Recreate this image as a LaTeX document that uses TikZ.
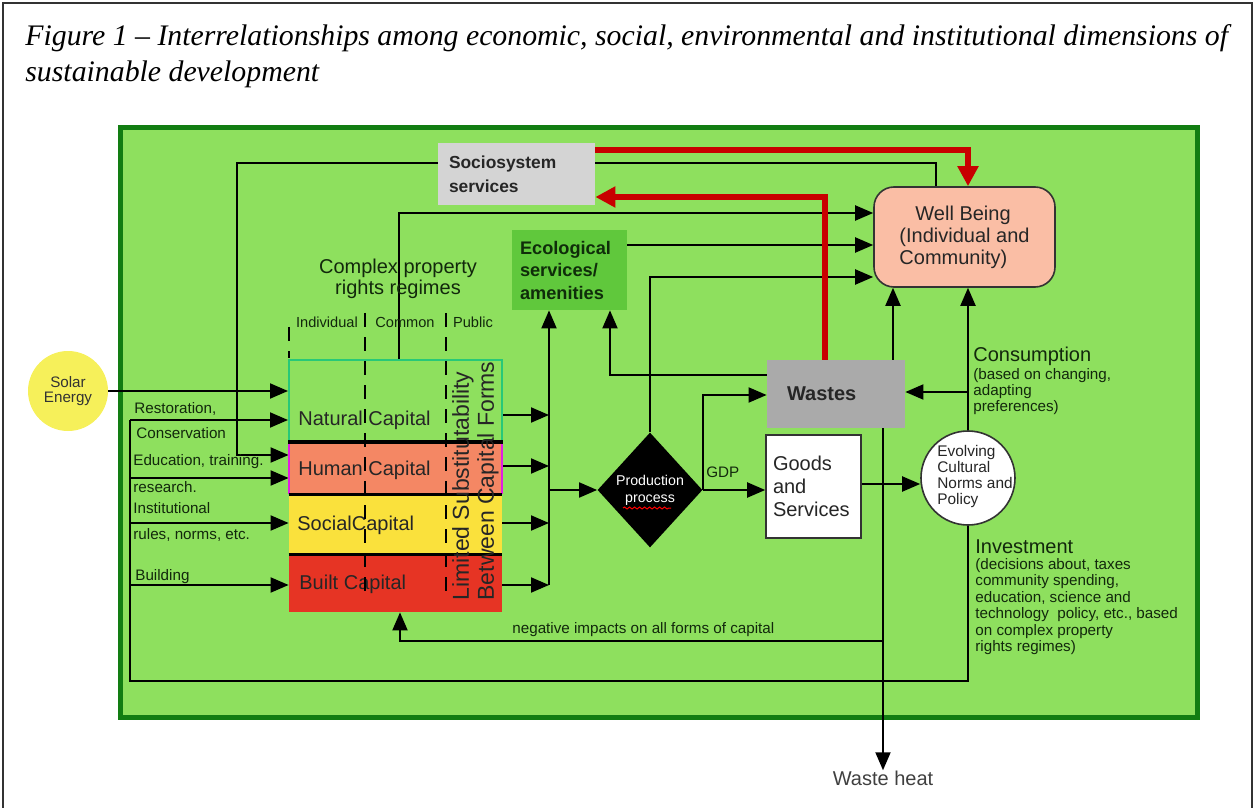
\documentclass[tikz,border=0pt]{standalone}
\usepackage{fontspec}
\setmainfont{Liberation Sans}
\newfontfamily\captionfont{Liberation Serif}
\usetikzlibrary{arrows.meta,shapes.geometric,decorations.pathmorphing}
\pgfdeclarelayer{back}
\pgfdeclarelayer{wires}
\pgfsetlayers{back,wires,main}

\definecolor{panel}{RGB}{142,224,94}
\definecolor{paneledge}{RGB}{18,125,18}
\definecolor{socgray}{RGB}{212,212,212}
\definecolor{wbpink}{RGB}{250,190,165}
\definecolor{ecogreen}{RGB}{96,200,60}
\definecolor{ecotext}{RGB}{15,45,10}
\definecolor{natedge}{RGB}{40,200,120}
\definecolor{humfill}{RGB}{244,135,100}
\definecolor{humedge}{RGB}{225,30,225}
\definecolor{socfill}{RGB}{250,225,60}
\definecolor{builtfill}{RGB}{230,52,36}
\definecolor{wastegray}{RGB}{170,170,170}
\definecolor{solar}{RGB}{246,240,90}
\definecolor{redline}{RGB}{200,0,0}
\definecolor{labeltext}{RGB}{18,40,12}

\begin{document}
\begin{tikzpicture}[x=0.5pt,y=-0.5pt,
  wire/.style={draw=black, line width=1pt},
  arr/.style={wire, -{Triangle[length=9pt,width=7.5pt]}},
  redarr/.style={draw=redline, line width=3pt, -{Triangle[length=10pt,width=10pt]}},
  small/.style={inner sep=0, text=labeltext, font=\fontsize{7.6}{8}\selectfont},
  leftlbl/.style={small, anchor=west, text height=0.7em, text depth=0.2em},
  captext/.style={inner sep=0, anchor=west, text=black!85, font=\fontsize{10}{12}\selectfont},
  capbox/.style={minimum width=106.5pt, inner sep=0},
  cut/.style={line width=1pt, dash pattern=on 7pt off 5pt}]

\useasboundingbox (0,0) rectangle (1255,808);

% page frame and green panel
\begin{pgfonlayer}{back}
  \draw[line width=1pt, black!80] (3,812) -- (3,3) -- (1252,3) -- (1252,812);
  \draw[draw=paneledge, line width=2.5pt, fill=panel] (120,128) rectangle (1197,717);
\end{pgfonlayer}

% caption
\node[anchor=base west, inner sep=0, font=\captionfont\itshape\fontsize{14.9}{18}\selectfont] (title1) at (25,46)
  {Figure 1 \textendash{} Interrelationships among economic, social, environmental and institutional dimensions of};
\node[anchor=base west, inner sep=0, font=\captionfont\itshape\fontsize{14.9}{18}\selectfont] (title2) at (25,82)
  {sustainable development};

% boxes
\node[circle, fill=solar, minimum size=40pt, inner sep=0, align=center, text=black!80,
      font=\fontsize{7.6}{7.6}\selectfont] (solar) at (68,391) {Solar\\Energy};

\node[fill=socgray, minimum height=31pt, inner xsep=5.5pt, inner ysep=0, text width=67.5pt, align=left,
      font=\bfseries\fontsize{8.7}{12}\selectfont, text=black!85] (soc) at (516.5,174) {Sociosystem\\services};

\node[draw=black!80, line width=0.8pt, rounded corners=10pt, fill=wbpink, minimum width=90.5pt, minimum height=50pt,
      inner sep=0, align=left, text=black!85, font=\fontsize{10}{11}\selectfont] (wb) at (964.5,237)
      {\hspace*{8pt}Well Being\\(Individual and\\Community)};

\node[fill=ecogreen, minimum height=40pt, inner xsep=4pt, inner ysep=0, text width=49.5pt, align=left,
      font=\bfseries\fontsize{9.1}{11.25}\selectfont, text=ecotext] (eco) at (569.5,270) {Ecological\\services/\\amenities};

\node[align=center, inner sep=0, text=labeltext, font=\fontsize{10}{10.5}\selectfont] (cprr) at (398,279)
  {Complex property\\rights regimes};
\node[small, font=\fontsize{7.3}{8}\selectfont] (indiv) at (327,322) {Individual};
\node[small, font=\fontsize{7.3}{8}\selectfont] (common) at (405,322) {Common};
\node[small, font=\fontsize{7.3}{8}\selectfont] (public) at (473,322) {Public};

% capital stack
\node[capbox, draw=natedge, line width=1pt, minimum height=40.5pt] (nat) at (395.5,400.5) {};
\node[capbox, fill=humfill, minimum height=26.5pt] (hum) at (395.5,467.5) {};
\node[capbox, fill=socfill, minimum height=30pt] (scap) at (395.5,524) {};
\node[capbox, fill=builtfill, minimum height=29pt] (built) at (395.5,583) {};
\draw[humedge, line width=1pt] (hum.north west) -- (hum.south west) (hum.north east) -- (hum.south east);
\draw[line width=1.6pt] (nat.south west) -- (nat.south east)
                        (hum.south west) -- (hum.south east)
                        (scap.south west) -- (scap.south east);
\node[captext] (natlbl) at (298,420) {Natural Capital};
\node[captext] (humlbl) at (298,470) {Human Capital};
\node[captext] (scaplbl) at (297,525) {SocialCapital};
\node[captext] (builtlbl) at (299,584) {Built Capital};
\node[rotate=90, align=left, inner sep=0, text=black!85, font=\fontsize{11.5}{12.5}\selectfont] (lim) at (475.5,481)
  {Limited Substitutability\\Between Capital Forms};
\draw[cut] (289,327) -- (289,358);
\draw[cut] (365,313) -- (365,596);
\draw[cut] (446,313) -- (446,596);

% production, wastes, goods, norms
\node[diamond, fill=black, minimum width=52.5pt, minimum height=57.5pt, inner sep=0, text=white, align=center,
      font=\fontsize{7.1}{8.5}\selectfont] (prod) at (650,490) {Production\\process};
\draw[red, line width=0.5pt, decorate, decoration={snake, amplitude=0.5pt, segment length=2.5pt}] (623,508) -- (671,508);

\node[fill=wastegray, minimum height=34pt, inner xsep=10pt, inner ysep=0, text width=49pt, align=left,
      font=\bfseries\fontsize{10}{12}\selectfont, text=black!85] (wastes) at (836,394) {\raisebox{-2pt}{Wastes}};

\node[draw=black!80, line width=0.8pt, fill=white, minimum height=51.5pt, inner xsep=3.5pt, inner ysep=0,
      text width=40.5pt, align=left, text=black!85, font=\fontsize{10}{11.5}\selectfont] (goods) at (813.5,486.5)
      {Goods\\and\\Services};

\node[circle, draw=black!80, line width=0.8pt, fill=white, minimum size=47pt, inner sep=0] (evol) at (968,478) {};
\node[inner sep=0, align=left, text=black!85, font=\fontsize{7.7}{8}\selectfont] (evoltxt) at (975,477)
  {Evolving\\Cultural\\Norms and\\Policy};

\node[inner sep=0, text=black!75, font=\fontsize{10}{12}\selectfont] (heat) at (883,778) {Waste heat};

% labels on the panel
\node[leftlbl] (restor) at (134,408) {Restoration,};
\node[leftlbl] (conserv) at (136,433) {Conservation};
\node[leftlbl] (educ) at (133,461) {Education, training.};
\node[leftlbl] (research) at (133,487) {research.};
\node[leftlbl] (instit) at (133,508) {Institutional};
\node[leftlbl] (rules) at (133,534) {rules, norms, etc.};
\node[leftlbl] (building) at (135,575) {Building};
\node[leftlbl] (neg) at (512,628) {negative impacts on all forms of capital};
\node[leftlbl] (gdp) at (706,472) {GDP};

\node[anchor=west, inner sep=0, text=labeltext, font=\fontsize{10}{12}\selectfont] (cons) at (973,356) {Consumption};
\node[small, anchor=north west, align=left] (consnote) at (973,368) {(based on changing,\\adapting\\preferences)};
\node[anchor=west, inner sep=0, text=labeltext, font=\fontsize{10}{12}\selectfont] (invest) at (975,547) {Investment};
\node[small, anchor=north west, align=left, font=\fontsize{7.6}{8.2}\selectfont] (investnote) at (975,558)
  {(decisions about, taxes\\community spending,\\education, science and\\technology\ \ policy, etc., based\\on complex property\\rights regimes)};

% connectors
\begin{pgfonlayer}{wires}
  % inputs to the capital stack
  \draw[arr] (solar.east) -- (nat.west |- solar.east);
  \draw[wire] (130,420) -- (130,681) -- (968,681) -- (evol.south);
  \draw[arr] (130,420) -- (nat.west |- 130,420);
  \draw[arr] (130,478) -- (hum.west |- 130,478);
  \draw[arr] (130,523) -- (scap.west |- 130,523);
  \draw[arr] (130,585) -- (built.west |- 130,585);
  \draw[arr] (wb.north -| 936,0) -- (936,163) -- (237,163) -- (237,455) -- (hum.west |- 237,455);
  % capital stack outputs
  \draw[arr] (nat.north -| 399,0) -- (399,213) -- (wb.west |- 399,213);
  \draw[arr] (nat.east |- 0,415) -- (549,415);
  \draw[arr] (hum.east |- 0,466) -- (549,466);
  \draw[arr] (scap.east |- 0,523) -- (549,523);
  \draw[arr] (built.east |- 0,585) -- (549,585);
  \draw[arr] (549,585) -- (eco.south -| 549,0);
  \draw[arr] (549,490) -- (prod.west);
  % ecological services and production
  \draw[arr] (eco.east |- 0,245) -- (wb.west |- 0,245);
  \draw[arr] (prod.north) -- (prod.north |- 0,277) -- (wb.west |- 0,277);
  \draw[arr] (prod.east) -- (goods.west |- prod.east);
  \draw[arr] (prod.east) -- (prod.east |- 0,395) -- (wastes.west |- 0,395);
  \draw[arr] (wastes.west |- 0,375) -- (610,375) -- (eco.south -| 610,0);
  \draw[arr] (goods.east |- 0,484) -- (evol.west |- 0,484);
  % wastes
  \draw[arr] (wastes.north -| 893,0) -- (wb.south -| 893,0);
  \draw[arr] (wastes.south -| 883,0) -- (heat.north);
  \draw[arr] (883,641) -- (400,641) -- (built.south -| 400,0);
  % consumption and investment
  \draw[arr] (evol.north) -- (wb.south -| evol.north);
  \draw[arr] (968,392) -- (wastes.east |- 968,392);
  % sociosystem services loop
  \draw[redarr] (soc.east |- 0,150) -- (968,150) -- (wb.north -| 968,0);
  \draw[redarr] (wastes.north -| 825,0) -- (825,197) -- (soc.east |- 0,197);
\end{pgfonlayer}
\end{tikzpicture}
\end{document}
